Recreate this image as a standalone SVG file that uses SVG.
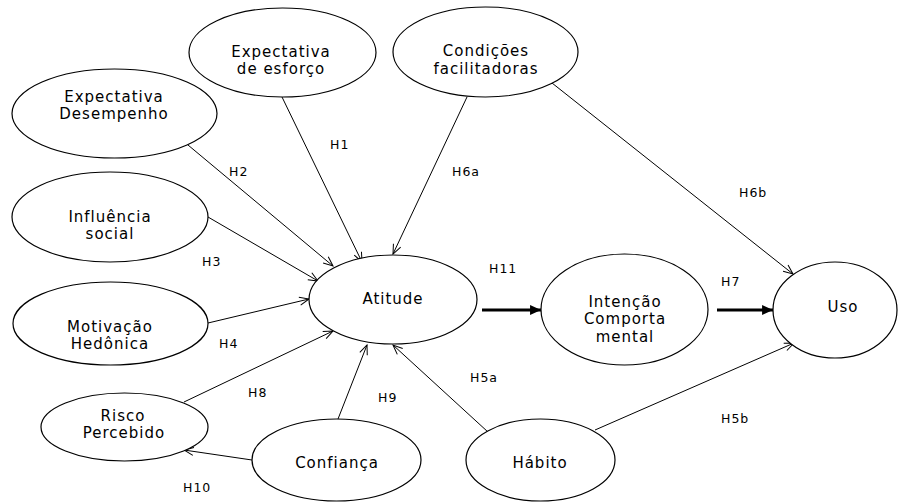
<svg xmlns="http://www.w3.org/2000/svg" width="902" height="502" viewBox="0 0 902 502">
<defs>
<style>
.n ellipse{fill:#fff;stroke:#000;stroke-width:1.2}
.n text{font-family:"DejaVu Sans",sans-serif;font-size:15px;letter-spacing:1px;text-anchor:middle;fill:#000}
.e line{stroke:#000;stroke-width:1}
.e line.thin{marker-end:url(#open)}
.e line.thick{stroke-width:3;marker-end:url(#solid)}
.lbl{font-family:"DejaVu Sans",sans-serif;font-size:12.5px;letter-spacing:1px;fill:#000}
</style>
<marker id="open" markerUnits="userSpaceOnUse" markerWidth="12" markerHeight="12" viewBox="0 0 12 10" refX="10.5" refY="5" orient="auto">
<path d="M1,1 L10.5,5 L1,9" fill="none" stroke="#000" stroke-width="1"/>
</marker>
<marker id="solid" markerUnits="userSpaceOnUse" markerWidth="12" markerHeight="12" viewBox="0 0 11 10" refX="10" refY="5" orient="auto">
<path d="M0,0.5 L10,5 L0,9.5 z" fill="#000"/>
</marker>
</defs>
<rect width="902" height="502" fill="#fff"/>
<g id="edges" class="e">
<line class="thin" x1="282" y1="97" x2="362" y2="262"/>
<line class="thin" x1="467" y1="97" x2="393" y2="254"/>
<line class="thin" x1="188" y1="145" x2="333" y2="266"/>
<line class="thin" x1="208" y1="217" x2="318" y2="281"/>
<line class="thin" x1="208" y1="323" x2="309" y2="299"/>
<line class="thin" x1="184" y1="402" x2="333" y2="331"/>
<line class="thin" x1="338" y1="419" x2="367" y2="345"/>
<line class="thin" x1="488" y1="432" x2="393" y2="345"/>
<line class="thin" x1="252" y1="460" x2="184" y2="450"/>
<line class="thin" x1="552" y1="83" x2="793" y2="274"/>
<line class="thin" x1="595" y1="430" x2="794" y2="343"/>
<line class="thick" x1="482" y1="310" x2="541" y2="310"/>
<line class="thick" x1="717" y1="310" x2="773" y2="310"/>
</g>
<g id="labels">
<text class="lbl" x="330" y="149">H1</text>
<text class="lbl" x="229" y="176">H2</text>
<text class="lbl" x="452" y="176">H6a</text>
<text class="lbl" x="739" y="197">H6b</text>
<text class="lbl" x="202" y="266">H3</text>
<text class="lbl" x="489" y="273">H11</text>
<text class="lbl" x="721" y="286">H7</text>
<text class="lbl" x="219" y="348">H4</text>
<text class="lbl" x="248" y="397">H8</text>
<text class="lbl" x="378" y="402">H9</text>
<text class="lbl" x="470" y="382">H5a</text>
<text class="lbl" x="721" y="423">H5b</text>
<text class="lbl" x="183" y="492">H10</text>
</g>
<g id="expectativa-esforco" class="n">
<ellipse cx="282.5" cy="52.5" rx="93.5" ry="44.5"/>
<text x="281" y="57">Expectativa</text>
<text x="281" y="74">de esforço</text>
</g>
<g id="condicoes" class="n">
<ellipse cx="485.5" cy="52" rx="92.5" ry="45"/>
<text x="486" y="56">Condições</text>
<text x="486" y="74">facilitadoras</text>
</g>
<g id="expectativa-desempenho" class="n">
<ellipse cx="114.5" cy="113.5" rx="102.5" ry="44.5"/>
<text x="114" y="102">Expectativa</text>
<text x="114" y="119">Desempenho</text>
</g>
<g id="influencia-social" class="n">
<ellipse cx="110" cy="217" rx="98" ry="45"/>
<text x="110" y="222">Influência</text>
<text x="110" y="239">social</text>
</g>
<g id="atitude" class="n">
<ellipse cx="393" cy="299.5" rx="84" ry="44.5"/>
<text x="393" y="304">Atitude</text>
</g>
<g id="motivacao-hedonica" class="n">
<ellipse cx="110.5" cy="323.5" rx="97.5" ry="41.5"/>
<text x="110" y="332">Motivação</text>
<text x="110" y="349">Hedônica</text>
</g>
<g id="risco-percebido" class="n">
<ellipse cx="124.5" cy="427" rx="83.5" ry="34"/>
<text x="123" y="421">Risco</text>
<text x="124" y="438">Percebido</text>
</g>
<g id="confianca" class="n">
<ellipse cx="336.5" cy="460" rx="84.5" ry="41"/>
<text x="337" y="468">Confiança</text>
</g>
<g id="intencao-comportamental" class="n">
<ellipse cx="624.5" cy="309.5" rx="83.5" ry="55.5"/>
<text x="625" y="307">Intenção</text>
<text x="625" y="324">Comporta</text>
<text x="625" y="342">mental</text>
</g>
<g id="uso" class="n">
<ellipse cx="835" cy="310" rx="62" ry="48"/>
<text x="843" y="312">Uso</text>
</g>
<g id="habito" class="n">
<ellipse cx="540.5" cy="460" rx="74.5" ry="41"/>
<text x="540" y="468">Hábito</text>
</g>
</svg>
